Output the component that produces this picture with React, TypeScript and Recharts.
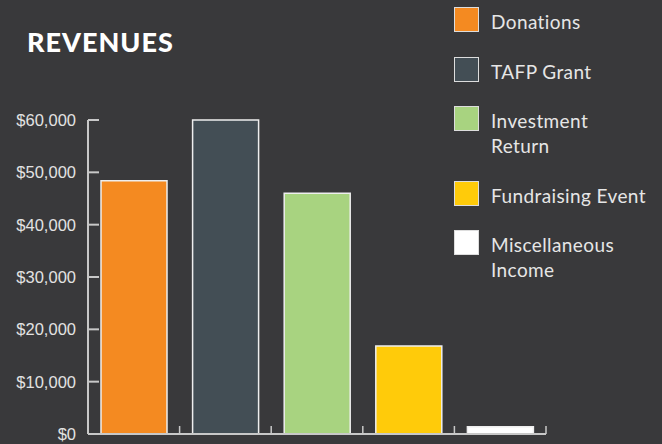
import { BarChart, Bar, XAxis, YAxis, Cell } from 'recharts'

const categories = ['Donations', 'TAFP Grant', 'Investment Return', 'Fundraising Event', 'Miscellaneous Income']
const legendLines = [['Donations'], ['TAFP Grant'], ['Investment', 'Return'], ['Fundraising Event'], ['Miscellaneous', 'Income']]
const revenues = [48400, 60000, 46000, 16800, 1400]
const colors = ['#f48a21', '#434e55', '#a8d380', '#ffcb0a', '#ffffff']
const yTicks = [0, 10000, 20000, 30000, 40000, 50000, 60000]
const xEdges = [0, 1, 2, 3, 4, 5]

const BG = '#39393b'
const AXIS = '#c8c8c8'

const data = categories.map((name, i) => ({ name, pos: i + 0.5, value: revenues[i] }))

const NoLabel = () => <g />

export default function App() {
  return (
    <div style={{ position: 'relative', width: 662, height: 444, background: BG, overflow: 'hidden' }}>
      <style>{'body{margin:0}'}</style>
      <div
        style={{
          position: 'absolute', left: 27, top: 28, fontFamily: 'Lato', fontWeight: 900,
          fontSize: 27, lineHeight: '27px', letterSpacing: 1, color: '#ffffff',
        }}
      >
        REVENUES
      </div>
      <BarChart width={662} height={444} data={data} margin={{ top: 120, right: 116, bottom: 0, left: 0 }}>
        <XAxis
          type="number"
          dataKey="pos"
          domain={[0, 5]}
          ticks={xEdges}
          tick={NoLabel}
          tickSize={-8}
          height={10}
          axisLine={{ stroke: AXIS, strokeWidth: 2 }}
          tickLine={{ stroke: AXIS, strokeWidth: 1.5 }}
        />
        <YAxis
          domain={[0, 60000]}
          ticks={yTicks}
          width={88}
          tickSize={-11}
          tickMargin={23}
          tickFormatter={v => `$${Number(v).toLocaleString('en-US')}`}
          tick={{ fill: '#e2e2e2', fontSize: 16.5, fontFamily: 'Liberation Sans' }}
          axisLine={{ stroke: AXIS, strokeWidth: 2 }}
          tickLine={{ stroke: AXIS, strokeWidth: 2 }}
        />
        <Bar dataKey="value" barSize={66} stroke="#eeeeee" strokeWidth={1.5} isAnimationActive={false}>
          {data.map((d, i) => (
            <Cell key={d.name} fill={colors[i]} />
          ))}
        </Bar>
      </BarChart>
      <div style={{ position: 'absolute', left: 454, top: 7, fontFamily: 'Lato', fontSize: 19, color: '#e6e6e6' }}>
        {legendLines.map((lines, i) => (
          <div key={i} style={{ display: 'flex', alignItems: 'flex-start', marginBottom: 24.5 }}>
            <div
              style={{
                width: 25, height: 25, boxSizing: 'border-box', background: colors[i],
                border: '1.5px solid #dddddd', flex: 'none',
              }}
            />
            <div style={{ marginLeft: 12, lineHeight: '25px', letterSpacing: 0.4, position: 'relative', top: 2 }}>
              {lines.map(l => (
                <div key={l}>{l}</div>
              ))}
            </div>
          </div>
        ))}
      </div>
    </div>
  )
}
